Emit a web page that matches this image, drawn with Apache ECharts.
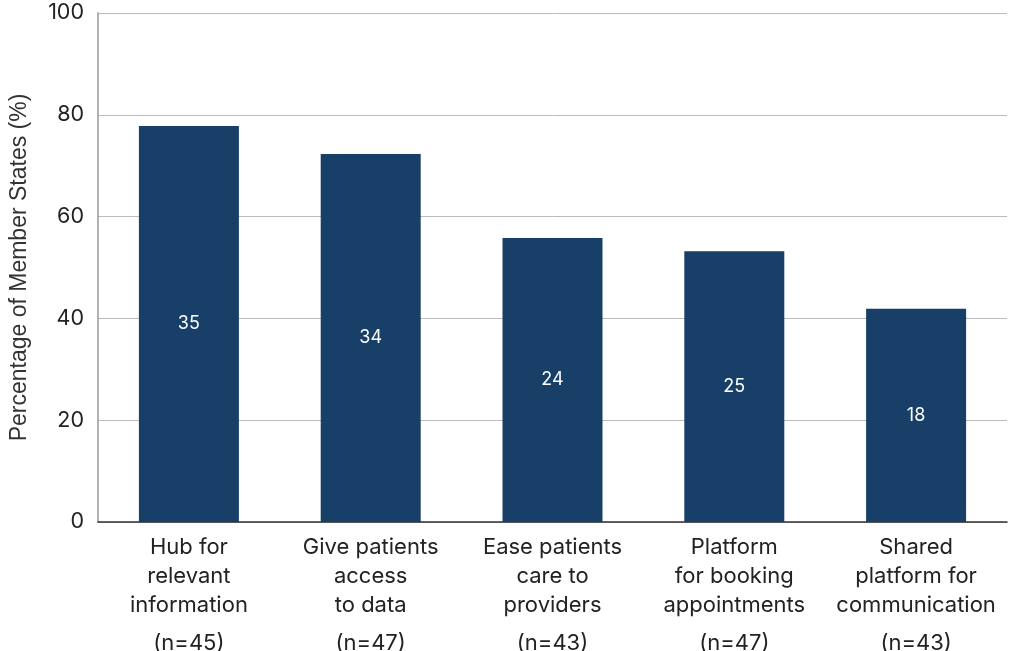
<!DOCTYPE html>
<html><head><meta charset="utf-8">
<script src="https://cdn.jsdelivr.net/npm/echarts@6/dist/echarts.min.js"></script>
<style>html,body{margin:0;padding:0;background:#fff}#c{width:1009px;height:651px}</style>
</head><body><div id="c"></div>
<script>
const categories = ["Hub for\nrelevant\ninformation", "Give patients\naccess\nto data", "Ease patients\ncare to\nproviders", "Platform\nfor booking\nappointments", "Shared\nplatform for\ncommunication"];
const sampleSizes = ["(n=45)", "(n=47)", "(n=43)", "(n=47)", "(n=43)"];
const percentages = [77.8, 72.3, 55.8, 53.2, 41.9];
const counts = [35, 34, 24, 25, 18];
const yTicks = [0, 20, 40, 60, 80, 100];

const chart = echarts.init(document.getElementById('c'), null, {renderer: 'canvas'});
const font = 'Inter, "Noto Sans", sans-serif';
chart.setOption({
  animation: false,
  grid: {left: 98, right: 2, top: 13, bottom: 129, outerBoundsMode: 'none', containLabel: false},
  xAxis: {
    type: 'category',
    data: categories.map((c, i) => c + '\n{n|' + sampleSizes[i] + '}'),
    axisLine: {lineStyle: {color: '#333', width: 1.5}},
    axisTick: {show: false},
    axisLabel: {
      interval: 0, color: '#222', fontFamily: font, fontSize: 22, lineHeight: 29, margin: 11,
      rich: {n: {fontFamily: font, fontSize: 22, lineHeight: 47, color: '#222'}}
    }
  },
  yAxis: {
    type: 'value', min: 0, max: 100, interval: 20,
    name: 'Percentage of Member States (%)', nameLocation: 'middle', nameGap: 67,
    nameTextStyle: {fontFamily: '"Liberation Sans", Arial, sans-serif', fontSize: 23, color: '#333'},
    axisLine: {show: true, lineStyle: {color: '#999', width: 1.5}},
    axisTick: {show: false},
    splitLine: {lineStyle: {color: '#bbb', width: 1}},
    axisLabel: {color: '#222', fontFamily: font, fontSize: 21.5, margin: 14,
      formatter: v => yTicks.includes(v) ? String(v) : ''}
  },
  series: [{
    type: 'bar', barWidth: '55%',
    data: percentages,
    itemStyle: {color: '#173f67'},
    label: {show: true, position: 'inside', color: '#fff', fontFamily: font, fontSize: 18,
      formatter: p => String(counts[p.dataIndex])}
  }]
});
</script></body></html>
